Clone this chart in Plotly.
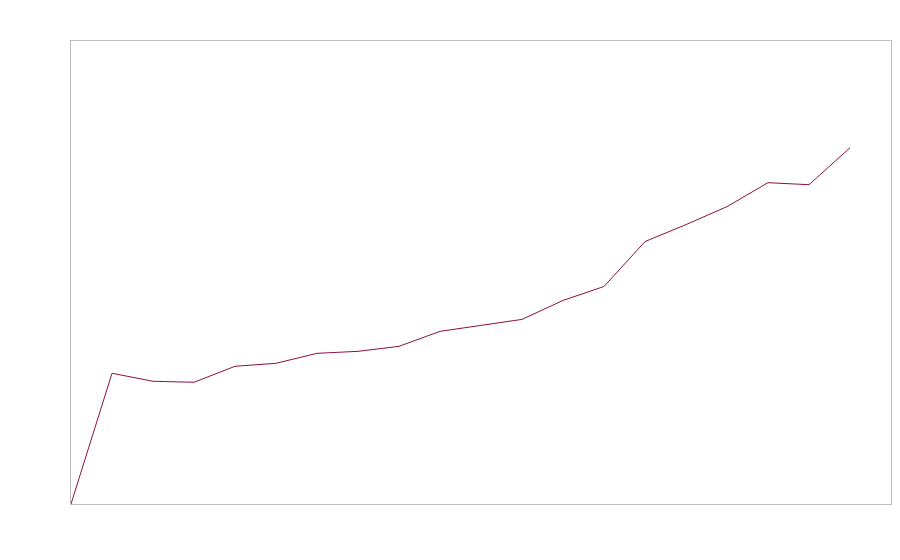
import plotly.graph_objects as go

x_values = list(range(20))
y_values = [0, 131, 123, 122, 138, 141, 151, 153, 158, 173, 179, 185, 204, 218, 263, 280, 298, 322, 320, 357]

fig = go.Figure()
fig.add_trace(go.Scatter(
    x=x_values, y=y_values, mode="lines",
    line=dict(color="#8c1048", width=1),
    showlegend=False, hoverinfo="skip",
))

axis_common = dict(
    showgrid=False, zeroline=False, showticklabels=False, ticks="",
    showline=True, linecolor="#bdbdbd", linewidth=1, mirror=True,
)
fig.update_xaxes(range=[0, 20], **axis_common)
fig.update_yaxes(range=[0, 464], **axis_common)

fig.update_layout(
    width=884, height=544,
    margin=dict(l=63, r=1, t=33, b=48),
    paper_bgcolor="white", plot_bgcolor="white",
)

fig.write_html("out.html")
